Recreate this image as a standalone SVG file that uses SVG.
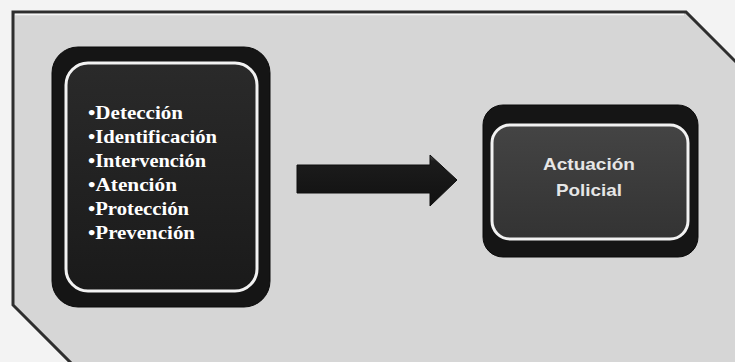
<svg xmlns="http://www.w3.org/2000/svg" width="735" height="362" viewBox="0 0 735 362">
<defs>
<style>
.bg{fill:#f3f3f3}
.panel{fill:#d6d6d6;stroke:#2e2e2e;stroke-width:3}
.outer{fill:#151515;stroke:#0a0a0a;stroke-width:1}
.inner{stroke:#f2f2f2;stroke-width:3}
.lst{font-family:"Liberation Serif","Times New Roman",serif;font-weight:bold;font-size:19px;fill:#ffffff}
.lbl{font-family:"Liberation Sans",Arial,sans-serif;font-weight:bold;font-size:17px;fill:#e6e6e6;text-anchor:middle}
</style>
<linearGradient id="gInL" x1="0" y1="0" x2="0" y2="1">
<stop offset="0" stop-color="#2a2a2a"/><stop offset="1" stop-color="#1a1a1a"/>
</linearGradient>
<linearGradient id="gInR" x1="0" y1="0" x2="0" y2="1">
<stop offset="0" stop-color="#444"/><stop offset="1" stop-color="#333"/>
</linearGradient>
<linearGradient id="gArrow" x1="0" y1="0" x2="0" y2="1">
<stop offset="0" stop-color="#555"/><stop offset="0.12" stop-color="#1c1c1c"/><stop offset="1" stop-color="#111"/>
</linearGradient>
</defs>
<rect class="bg" x="0" y="0" width="735" height="362"/>
<polygon class="panel" points="13,12 686,12 742,68 742,372 80,372 13,305"/>
<line x1="15" y1="14.5" x2="684" y2="14.5" stroke="#f6f6f6" stroke-width="1.5"/>
<g id="node-list">
<rect class="outer" x="52" y="47" width="218" height="260" rx="26"/>
<rect class="inner" x="66" y="63" width="191" height="228" rx="22" fill="url(#gInL)"/>
<text class="lst" x="88" y="119" textLength="95" lengthAdjust="spacingAndGlyphs">•Detección</text>
<text class="lst" x="88" y="143" textLength="129" lengthAdjust="spacingAndGlyphs">•Identificación</text>
<text class="lst" x="88" y="167" textLength="118" lengthAdjust="spacingAndGlyphs">•Intervención</text>
<text class="lst" x="88" y="191" textLength="89" lengthAdjust="spacingAndGlyphs">•Atención</text>
<text class="lst" x="88" y="215" textLength="101" lengthAdjust="spacingAndGlyphs">•Protección</text>
<text class="lst" x="88" y="239" textLength="107" lengthAdjust="spacingAndGlyphs">•Prevención</text>
</g>
<g id="connectors">
<polygon points="297,165 430,165 430,155 457,180 430,206 430,193 297,193" fill="url(#gArrow)" stroke="#0e0e0e" stroke-width="1"/>
</g>
<g id="node-actuacion">
<rect class="outer" x="483" y="105" width="215" height="152" rx="20" fill="#222"/>
<rect class="inner" x="492" y="125" width="196" height="114" rx="18" fill="url(#gInR)"/>
<text class="lbl" x="589" y="170" textLength="92" lengthAdjust="spacingAndGlyphs">Actuación</text>
<text class="lbl" x="589" y="196" textLength="66" lengthAdjust="spacingAndGlyphs">Policial</text>
</g>
</svg>
